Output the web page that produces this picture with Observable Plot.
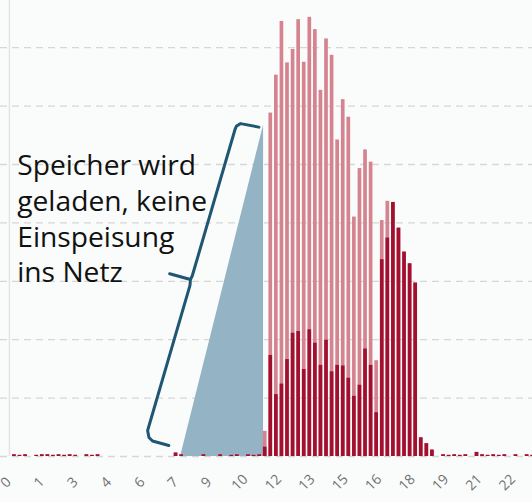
<!DOCTYPE html>
<html>
<head>
<meta charset="utf-8">
<script src="https://cdn.jsdelivr.net/npm/d3@7"></script>
<script src="https://cdn.jsdelivr.net/npm/@observablehq/plot@0.6"></script>
<style>
  html, body { margin: 0; padding: 0; background: #fafbfb; }
  #chart { width: 532px; height: 502px; overflow: hidden; }
</style>
</head>
<body>
<div id="chart"></div>
<script>
// 15-minute slots over the day (hour of slot start)
const slotHours = d3.range(0, 24, 0.25);

// Light bars (PV-Leistung)
const leistung = [
  0,0,0.03,0.02,0.03,0,0.02,0.03,0.03,0.02,
  0.03,0.02,0.03,0.02,0,0.03,0.02,0.03,0,0,
  0,0,0,0,0,0,0,0,0,0,
  0,0.06,0.03,0,0,0,0.03,0,0,0.03,
  0,0.02,0.03,0,0.03,0.02,0.03,0.43,
  5.88,6.53,7.45,6.74,6.97,7.48,6.75,7.52,7.31,6.27,
  7.15,6.87,5.42,6.11,5.81,4.10,4.93,5.25,5.04,1.64,
  4.04,4.37,4.35,3.91,3.50,3.30,2.97,0.32,0.22,0.11,
  0,0.03,0.02,0.03,0.02,0.03,0,0.07,0.03,0.02,
  0.03,0.02,0.03,0,0.03,0,0.03,0.02
];

// Dark bars (Einspeisung)
const einspeisung = [
  0,0,0.03,0.02,0.03,0,0.02,0.03,0.03,0.02,
  0.03,0.02,0.03,0.02,0,0.03,0.02,0.03,0,0,
  0,0,0,0,0,0,0,0,0,0,
  0,0.06,0.03,0,0,0,0.03,0,0,0.03,
  0,0.02,0.03,0,0.03,0.02,0.03,0.16,
  1.73,1.06,1.24,1.66,2.11,2.14,1.49,2.17,1.94,1.56,
  1.99,1.45,1.56,1.55,1.34,1.03,1.22,1.84,1.56,0.75,
  3.37,3.74,4.35,3.91,3.50,3.30,2.97,0.32,0.22,0.11,
  0,0.03,0.02,0.03,0.02,0.03,0,0.07,0.03,0.02,
  0.03,0.02,0.03,0,0.03,0,0.03,0.02
];

// x tick labels (every 6th slot)
const tickHours = [0,1.5,3,4.5,6,7.5,9,10.5,12,13.5,15,16.5,18,19.5,21,22.5];
const tickLabels = ["0","1","3","4","6","7","9","10","12","13","15","16","18","19","21","22"];

// gridlines
const gridValues = [0,1,2,3,4,5,6,7];

// frame line at left
const frameLineHour = [0.40];

// storage-charging triangle
const triHours = [8.08, 11.80];
const triValues = [0, 5.67];

// curly brace (hour, value)
const braceHours  = [11.59,10.77,10.59,10.52,8.60,8.52,7.59,8.52,8.50,6.60,6.66,6.82,7.55];
const braceValues = [5.64,5.70,5.66,5.60,3.09,3.03,3.13,3.03,2.93,0.445,0.325,0.265,0.188];

// annotation
const annotationText = "Speicher wird\ngeladen, keine\nEinspeisung\nins Netz";
const annotationPos = {h: 0.75, v: 5.25};

const bars = slotHours.map((h, i) => ({h, h2: h + 0.25, leistung: leistung[i], einspeisung: einspeisung[i]}));
const ticks = tickHours.map((h, i) => ({h: h + 0.125, label: tickLabels[i]}));
const tri = triHours.map((h, i) => ({h, v: triValues[i]}));
const brace = braceHours.map((h, i) => ({h, v: braceValues[i]}));

const plot = Plot.plot({
  width: 532,
  height: 502,
  marginTop: 0,
  marginBottom: 46,
  marginLeft: 0,
  marginRight: 0,
  style: {background: "#fafbfb", fontFamily: "'Open Sans', sans-serif", overflow: "hidden"},
  x: {domain: [0, 24], range: [0, 535], axis: null},
  y: {domain: [0, 456 / 58.4], axis: null},
  marks: [
    Plot.ruleY(gridValues, {stroke: "#d6d6d6", strokeWidth: 1.3, strokeDasharray: "7,5"}),
    Plot.ruleX(frameLineHour, {stroke: "#e2e2e2", strokeWidth: 1.4}),
    Plot.areaY(tri, {x: "h", y: "v", fill: "#94b3c4"}),
    Plot.rectY(bars, {x1: "h", x2: "h2", y: "leistung", fill: "#d4838f", insetLeft: 0.95, insetRight: 0.95}),
    Plot.rectY(bars, {x1: "h", x2: "h2", y: "einspeisung", fill: "#a3102f", insetLeft: 0.95, insetRight: 0.95}),
    Plot.line(brace, {x: "h", y: "v", stroke: "#1f5673", strokeWidth: 3, strokeLinejoin: "round", strokeLinecap: "round"}),
    Plot.text([annotationText], {x: annotationPos.h, y: annotationPos.v, text: d => d, textAnchor: "start", lineAnchor: "top", fontSize: 28.2, lineHeight: 1.265, fill: "#111"}),
    Plot.text(ticks, {x: "h", y: 0, text: "label", dx: 2.5, dy: 26, rotate: -45, textAnchor: "middle", lineAnchor: "middle", fontSize: 14, fill: "#707070"})
  ]
});
document.getElementById("chart").appendChild(plot);
</script>
</body>
</html>
